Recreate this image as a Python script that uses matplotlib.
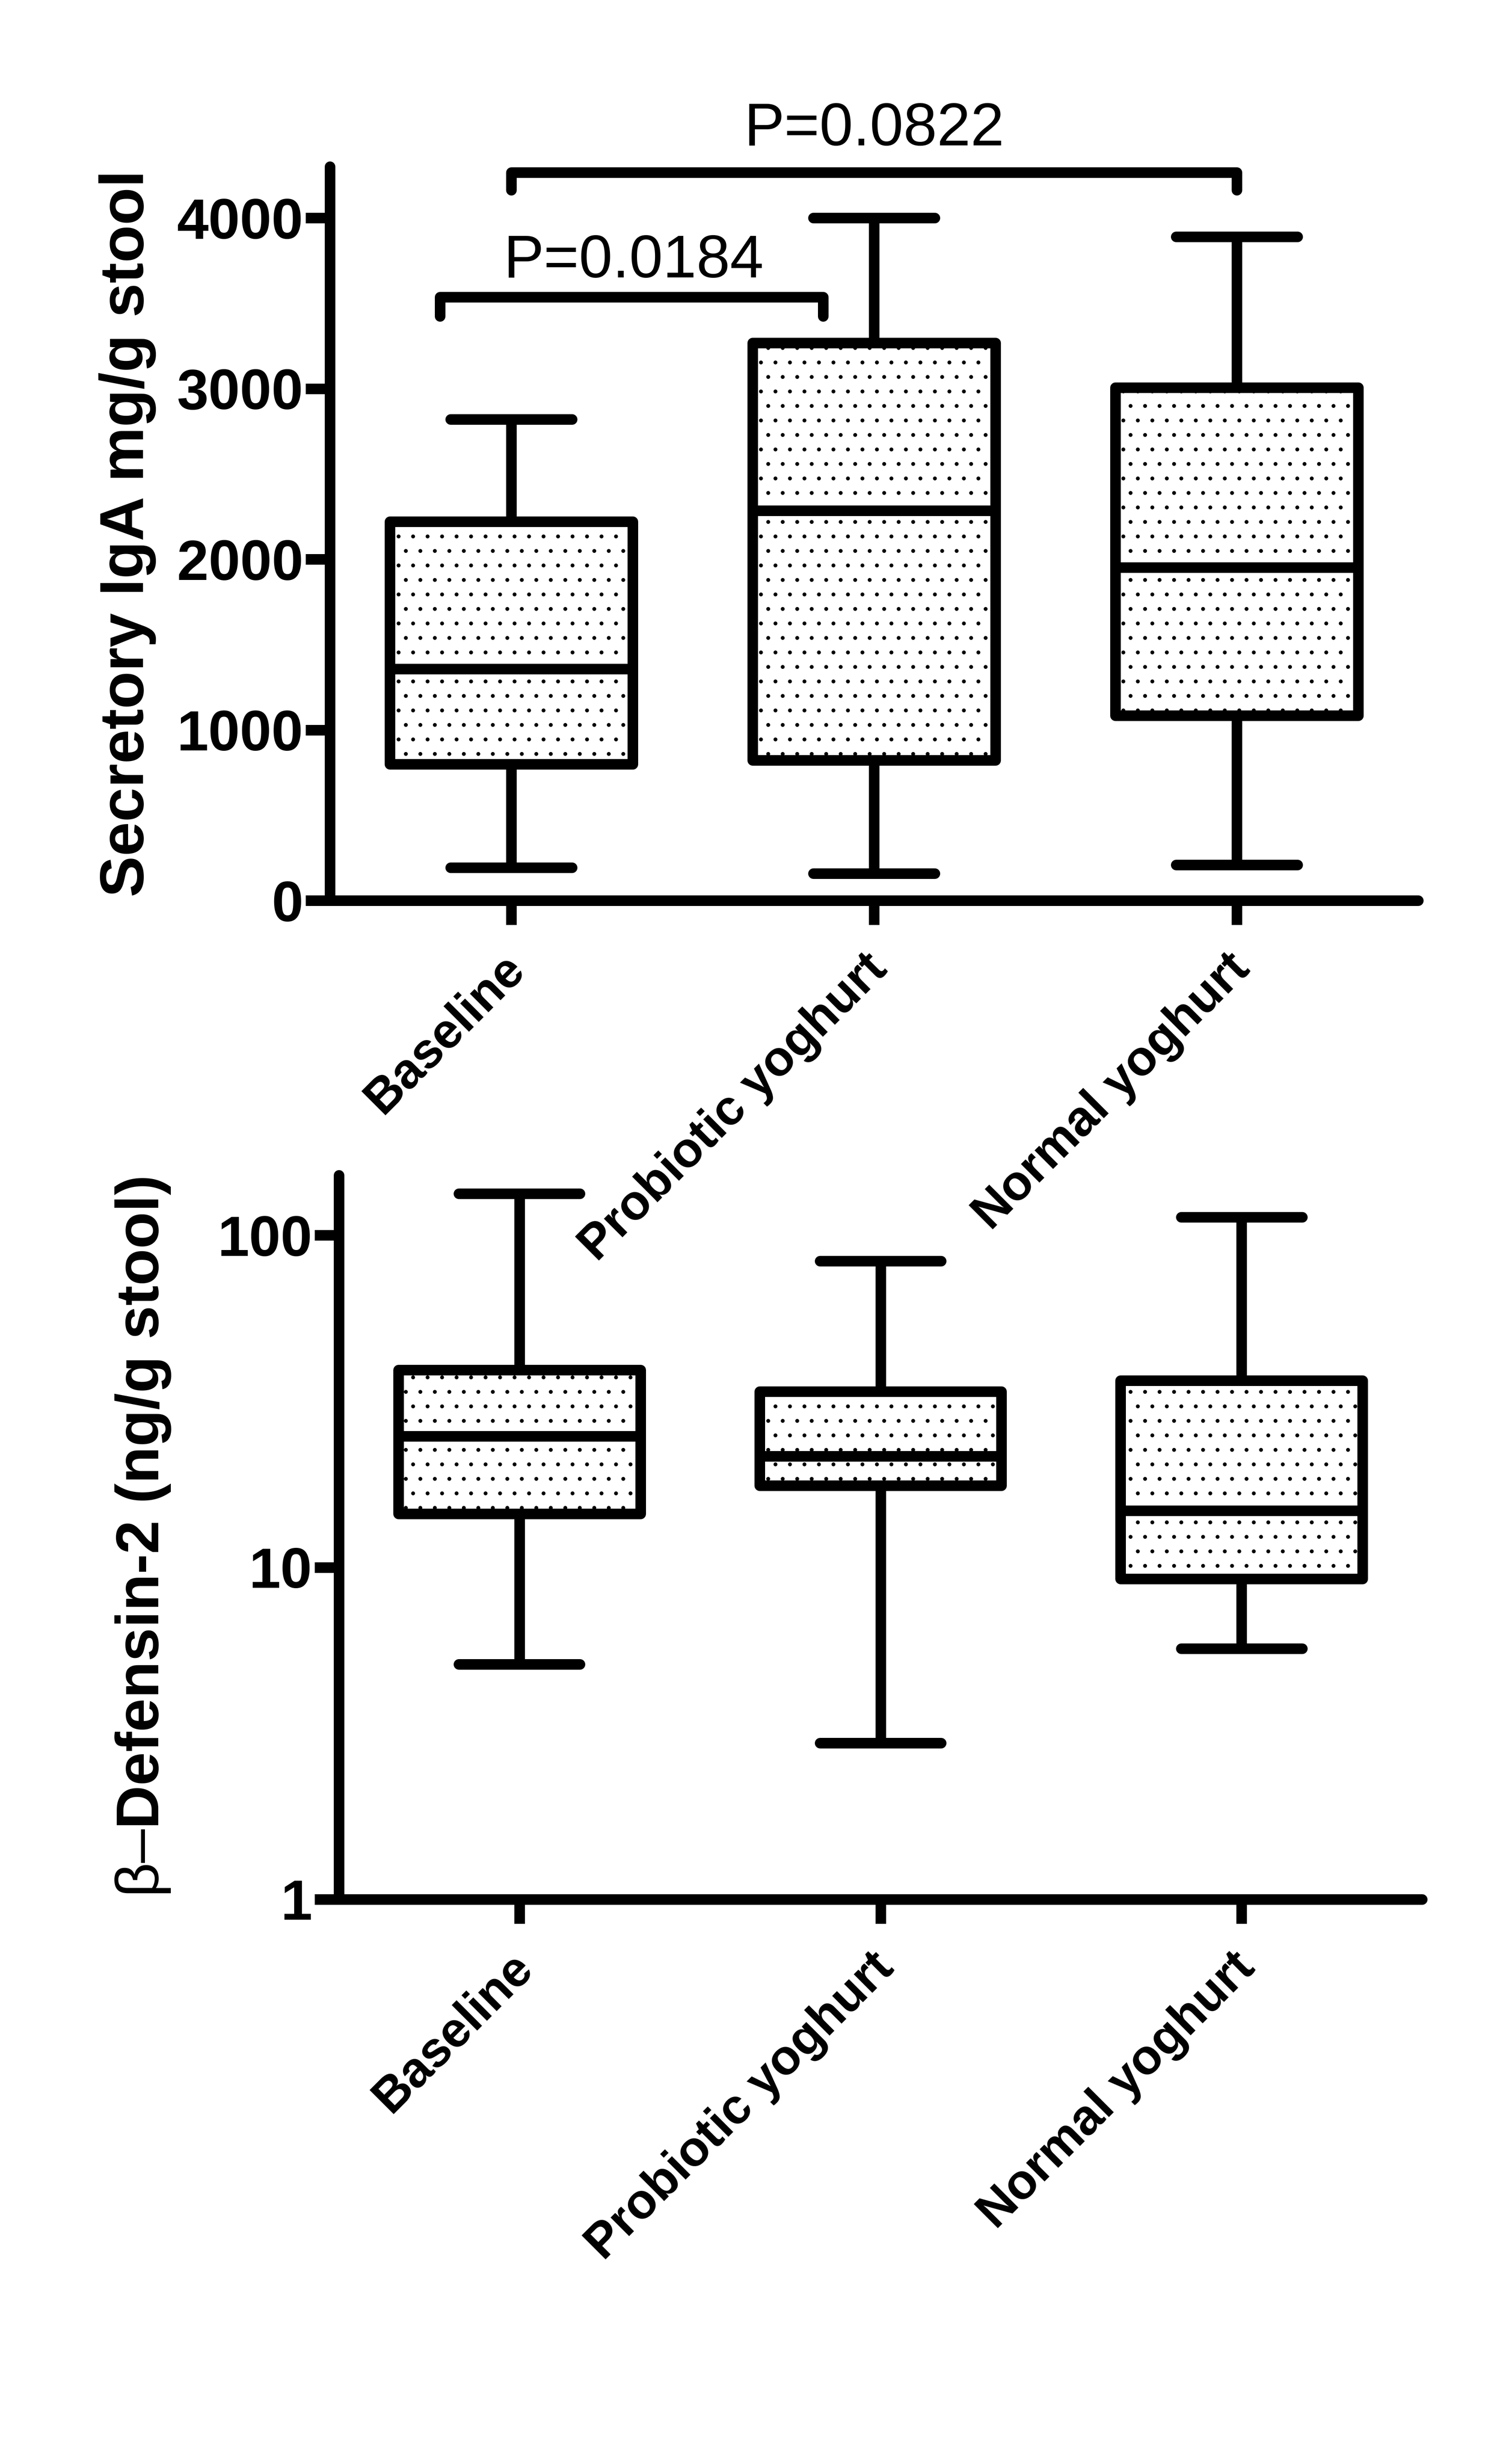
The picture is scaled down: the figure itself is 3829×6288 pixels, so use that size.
import matplotlib
matplotlib.use("Agg")
import matplotlib.pyplot as plt
from matplotlib.ticker import NullLocator
from matplotlib.transforms import ScaledTranslation

# --- data ---
groups = ["Baseline", "Probiotic yoghurt", "Normal yoghurt"]

# Secretory IgA, mg/g stool
iga_low = [194, 159, 208]
iga_q1 = [800, 821, 1085]
iga_med = [1357, 2284, 1952]
iga_q3 = [2220, 3267, 3006]
iga_high = [2819, 4000, 3891]

# beta-defensin-2, ng/g stool
def_low = [5.11, 2.96, 5.69]
def_q1 = [14.5, 17.6, 9.23]
def_med = [24.8, 21.6, 14.8]
def_q3 = [39.3, 33.8, 36.5]
def_high = [133.4, 83.7, 113.3]

p_labels = ["P=0.0184", "P=0.0822"]

DPI = 444
PX = 72.0 / DPI          # one pixel in points
LW = 27 * PX             # GraphPad-style heavy lines

plt.rcParams["font.family"] = ["Liberation Sans", "DejaVu Sans"]
plt.rcParams["mathtext.fontset"] = "custom"
plt.rcParams["mathtext.rm"] = "Liberation Sans"
plt.rcParams["hatch.linewidth"] = 0.4
plt.rcParams["hatch.color"] = "black"

fig = plt.figure(figsize=(3829 / DPI, 6288 / DPI), dpi=DPI)
fig.patch.set_facecolor("white")


def make_stats(low, q1, med, q3, high):
    return [dict(whislo=a, q1=b, med=c, q3=d, whishi=e, fliers=[])
            for a, b, c, d, e in zip(low, q1, med, q3, high)]


def draw_boxes(ax, stats):
    ax.bxp(stats, positions=range(len(stats)), widths=0.67, capwidths=0.335,
           patch_artist=True, showfliers=False,
           boxprops=dict(facecolor="white", edgecolor="black", linewidth=LW,
                         hatch="..", joinstyle="round"),
           medianprops=dict(color="black", linewidth=LW, solid_capstyle="butt"),
           whiskerprops=dict(color="black", linewidth=LW, solid_capstyle="butt"),
           capprops=dict(color="black", linewidth=LW, solid_capstyle="round"))


def style_axes(ax):
    ax.set_facecolor("none")
    for side in ("top", "right"):
        ax.spines[side].set_visible(False)
    for side in ("left", "bottom"):
        ax.spines[side].set_linewidth(LW)
        ax.spines[side].set_capstyle("round")
    ax.set_xlim(-0.5, 2.5)
    ax.tick_params(axis="both", direction="out", length=10, width=LW, color="black")
    ax.tick_params(axis="y", pad=1, labelsize=23.5)
    ax.tick_params(axis="x", pad=15.4)
    ax.set_xticks(range(len(groups)))
    ax.set_xticklabels(groups, rotation=45, ha="right", va="center",
                       rotation_mode="anchor", fontsize=20.5, fontweight="bold")
    shift = ScaledTranslation(15 * PX / 72, 0, fig.dpi_scale_trans)
    for lab in ax.get_xticklabels():
        lab.set_transform(lab.get_transform() + shift)
    for lab in ax.get_yticklabels():
        lab.set_fontweight("bold")


# --- top panel: secretory IgA ---
ax1 = fig.add_axes([0.2199, 0.63454, 0.72552, 0.29780])
draw_boxes(ax1, make_stats(iga_low, iga_q1, iga_med, iga_q3, iga_high))
ax1.set_ylim(0, 4300)
ax1.set_yticks([0, 1000, 2000, 3000, 4000])
ax1.set_yticklabels(["0", "1000", "2000", "3000", "4000"])
style_axes(ax1)
ax1.set_ylabel("Secretory IgA mg/g stool", fontsize=25.5, fontweight="bold")
ax1.yaxis.set_label_coords(-0.1595, 0.5)
ax1.set_zorder(3)

# significance brackets
brackets = [(-0.197, 0.86, 3424, 3536, 0.337, 3651),
            (0.0, 2.0, 4163, 4266, 1.0, 4425)]
for label, (x0, x1, yfoot, ytop, tx, ty) in zip(p_labels, brackets):
    ax1.plot([x0, x0, x1, x1], [yfoot, ytop, ytop, yfoot], color="black",
             linewidth=LW, solid_capstyle="round", solid_joinstyle="round",
             clip_on=False)
    ax1.text(tx, ty, label, ha="center", va="baseline", fontsize=25,
             clip_on=False)

# --- bottom panel: beta-defensin-2 ---
ax2 = fig.add_axes([0.22591, 0.22917, 0.72213, 0.29389])
draw_boxes(ax2, make_stats(def_low, def_q1, def_med, def_q3, def_high))
ax2.set_yscale("log")
ax2.set_ylim(1, 151.6)
ax2.set_yticks([1, 10, 100])
ax2.set_yticklabels(["1", "10", "100"])
ax2.yaxis.set_minor_locator(NullLocator())
style_axes(ax2)
ax2.set_ylabel("$\\mathrm{\\beta\u2013}$Defensin-2 (ng/g stool)",
               fontsize=25, fontweight="bold")
ax2.yaxis.set_label_coords(-0.1537, 0.5)
ax2.set_zorder(2)

fig.savefig("out.png", dpi=DPI, facecolor="white")
